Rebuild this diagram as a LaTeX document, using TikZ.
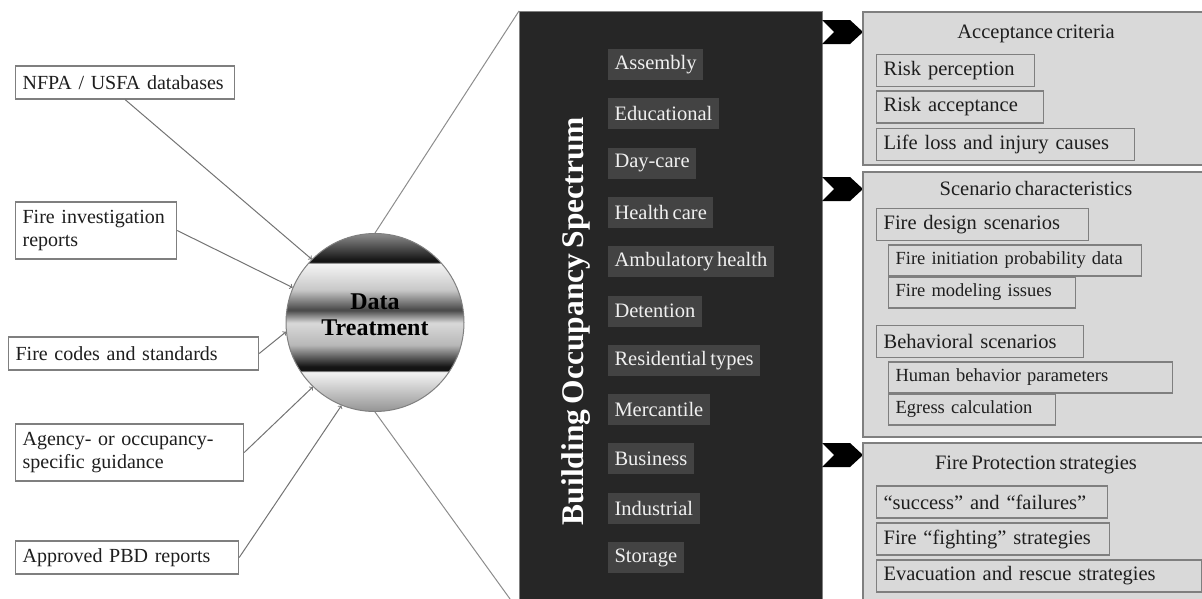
\documentclass[tikz,border=0pt]{standalone}
\usepackage{fontspec}
\setmainfont{Liberation Serif}[WordSpace=0.7]

\definecolor{specdark}{HTML}{262626}
\definecolor{catgray}{HTML}{434343}
\definecolor{panelgray}{HTML}{D9D9D9}
\definecolor{edgegray}{HTML}{7F7F7F}
\definecolor{inkgray}{HTML}{1E1E1E}

% banded metal look for the data treatment disc
\pgfdeclareverticalshading{metal}{100bp}{%
  color(0bp)=(black!42); color(25bp)=(black!42);
  color(36.2bp)=(black!4); color(36.5bp)=(black!92); color(37.6bp)=(black!92);
  color(43.7bp)=(black!28); color(49.9bp)=(black!15); color(53.5bp)=(black!72);
  color(59.1bp)=(black!22); color(66.6bp)=(black!4); color(66.9bp)=(black!92);
  color(67.5bp)=(black!92); color(75bp)=(black!45); color(100bp)=(black!45)}

\tikzset{
  srcbox/.style={draw=edgegray, line width=1.2pt, fill=white, anchor=west,
    align=left, inner xsep=7pt, minimum height=33pt, text=inkgray,
    font=\fontsize{20pt}{23pt}\selectfont, text width=#1},
  catbox/.style={draw=black!85, line width=1pt, fill=catgray, anchor=west,
    inner xsep=7pt, minimum height=32pt, text=white!94!black,
    font=\fontsize{20.5pt}{23pt}\selectfont},
  subbox/.style={draw=edgegray, line width=1.2pt, fill=panelgray, anchor=west,
    align=left, inner xsep=7pt, minimum height=32pt, text=inkgray,
    font=\fontsize{20.5pt}{23pt}\selectfont, text width=#1},
  smallbox/.style={subbox=#1, minimum height=31pt, font=\fontsize{18.5pt}{21pt}\selectfont},
  panel/.style={draw=edgegray, line width=1.2pt, fill=panelgray},
  paneltitle/.style={text=inkgray, font=\fontsize{20.5pt}{23pt}\selectfont},
  feed/.style={draw=black!55, line width=1pt, ->},
  spread/.style={draw=black!45, line width=1pt}
}

\begin{document}
\begin{tikzpicture}[x=1pt, y=-1pt]
\useasboundingbox (0,0) rectangle (1202,598);

% sources on the left
\node[srcbox=205pt] (nfpa) at (15,82.5) {NFPA / USFA databases};
\node[srcbox=147pt, minimum height=57pt] (firerep) at (15,230.5) {Fire investigation\\reports};
\node[srcbox=236pt] (codes) at (8,353.5) {Fire codes and standards};
\node[srcbox=214pt, minimum height=57pt] (agency) at (15,452.5) {Agency- or occupancy-\\specific guidance};
\node[srcbox=209pt] (approved) at (15,557.5) {Approved PBD reports};

% the disc
\node[circle, draw=black!50, line width=1pt, shading=metal, minimum size=178pt, inner sep=0pt] (dt) at (375,322.5) {};
\node[align=center, font=\bfseries\fontsize{24pt}{26pt}\selectfont] (dtlabel) at (375,315) {Data\\Treatment};

\draw[feed] (nfpa.south) -- (dt.135);
\draw[feed] (firerep.east) -- (dt.157);
\draw[feed] (codes.east) -- (dt.186);
\draw[feed] (agency.east) -- (dt.226);
\draw[feed] (approved.east) -- (dt.248);

% occupancy column
\node[draw=black!50, fill=specdark, anchor=north west, minimum width=303pt, minimum height=600pt, inner sep=0pt] (spec) at (519,11) {};
\draw[spread] (dt.north) -- (spec.north west);
\draw[spread] (dt.south) -- (spec.south west);

\node[rotate=90, text=white, font=\bfseries\fontsize{31.5pt}{34pt}\selectfont] (spectitle) at (576,321) {Building Occupancy Spectrum};

\foreach \occ [count=\i from 0] in {Assembly, Educational, Day-care, Health care,
  Ambulatory health, Detention, Residential types, Mercantile, Business, Industrial, Storage}
  \node[catbox] (occ\i) at (607,64.5+49.3*\i) {\occ};

% chevrons into the panels
\foreach \cy in {32,189,455}
  \fill[black] (822,\cy-12) -- ++(28,0) -- ++(13,12) -- ++(-13,12) -- ++(-28,0) -- ++(12,-12) -- cycle;

% acceptance criteria
\draw[panel] (863,12) rectangle (1212,165);
\node[paneltitle] (acctitle) at (1036,34) {Acceptance criteria};
\node[subbox=144pt] (riskperc) at (876,70.5) {Risk perception};
\node[subbox=153pt] (riskacc) at (876,107) {Risk acceptance};
\node[subbox=244pt] (lifeloss) at (876,144.5) {Life loss and injury causes};

% scenario characteristics
\draw[panel] (863,172) rectangle (1212,437);
\node[paneltitle] (scentitle) at (1036,188) {Scenario characteristics};
\node[subbox=198pt] (firedesign) at (876,224.5) {Fire design scenarios};
\node[smallbox=239pt] (fireinit) at (888,260.5) {Fire initiation probability data};
\node[smallbox=173pt] (firemodel) at (888,292.5) {Fire modeling issues};
\node[subbox=193pt] (behav) at (876,341.5) {Behavioral scenarios};
\node[smallbox=270pt] (humanbeh) at (888,377.5) {Human behavior parameters};
\node[smallbox=153pt] (egress) at (888,409.5) {Egress calculation};

% fire protection strategies
\draw[panel] (863,443) rectangle (1212,610);
\node[paneltitle] (prottitle) at (1036,465) {Fire Protection strategies};
\node[subbox=217pt] (success) at (876,502) {``success'' and ``failures''};
\node[subbox=219pt] (fighting) at (876,539) {Fire ``fighting'' strategies};
\node[subbox=311pt] (evac) at (876,576) {Evacuation and rescue strategies};
\end{tikzpicture}
\end{document}
